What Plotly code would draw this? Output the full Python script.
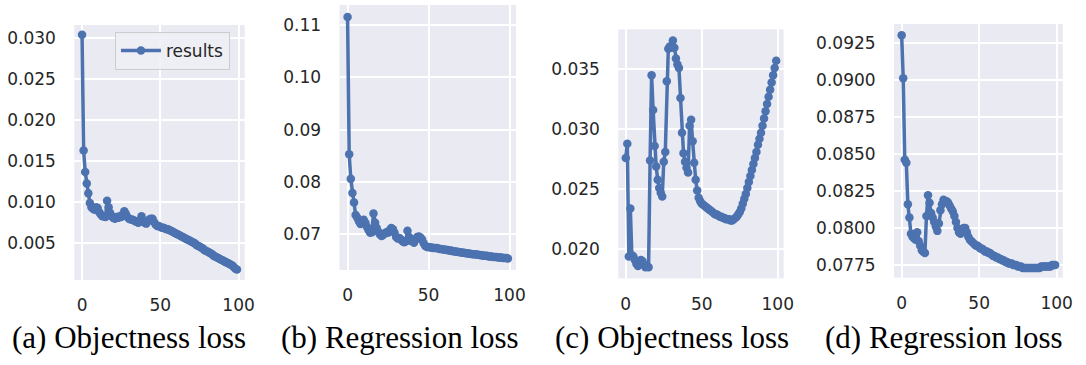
import plotly.graph_objects as go

epochs = list(range(100))

obj_loss_a = [
    0.0304, 0.0163, 0.0137, 0.0123, 0.0111, 0.0099, 0.0094, 0.0092, 0.0091, 0.0094,
    0.0093, 0.0088, 0.0085, 0.0083, 0.0083, 0.0082, 0.0102, 0.0094, 0.0087, 0.0083,
    0.0081, 0.0080, 0.0082, 0.0081, 0.0083, 0.0082, 0.0085, 0.0089, 0.0086, 0.0082,
    0.0080, 0.0079, 0.0079, 0.0078, 0.0077, 0.0076, 0.0075, 0.0078, 0.0083, 0.0077,
    0.0075, 0.0074, 0.0077, 0.0079, 0.0080, 0.0080, 0.0076, 0.0073, 0.0071, 0.0071,
    0.0070, 0.0069, 0.0069, 0.0068, 0.0067, 0.0067, 0.0066, 0.0065, 0.0064, 0.0063,
    0.0062, 0.0061, 0.0060, 0.0059, 0.0058, 0.0057, 0.0056, 0.0055, 0.0054, 0.0053,
    0.0052, 0.0051, 0.0050, 0.0048, 0.0047, 0.0046, 0.0045, 0.0044, 0.0042, 0.0041,
    0.0040, 0.0039, 0.0038, 0.0037, 0.0035, 0.0034, 0.0033, 0.0032, 0.0031, 0.0030,
    0.0029, 0.0028, 0.0027, 0.0026, 0.0025, 0.0024, 0.0023, 0.0021, 0.0019, 0.0018,
]

reg_loss_b = [
    0.1115, 0.0853, 0.0806, 0.0779, 0.0761, 0.0737, 0.0732, 0.0725, 0.0720, 0.0725,
    0.0728, 0.0722, 0.0714, 0.0708, 0.0703, 0.0704, 0.0740, 0.0722, 0.0712, 0.0705,
    0.0700, 0.0697, 0.0699, 0.0702, 0.0704, 0.0703, 0.0708, 0.0712, 0.0710, 0.0703,
    0.0695, 0.0692, 0.0693, 0.0690, 0.0687, 0.0685, 0.0687, 0.0707, 0.0695, 0.0688,
    0.0687, 0.0684, 0.0690, 0.0695, 0.0696, 0.0694, 0.0690, 0.0683, 0.0678, 0.0676,
    0.0676, 0.0675, 0.0675, 0.0674, 0.0674, 0.0674, 0.0673, 0.0672, 0.0672, 0.0671,
    0.0671, 0.0670, 0.0670, 0.0669, 0.0669, 0.0668, 0.0668, 0.0667, 0.0667, 0.0666,
    0.0666, 0.0665, 0.0665, 0.0664, 0.0664, 0.0663, 0.0663, 0.0662, 0.0662, 0.0662,
    0.0661, 0.0661, 0.0660, 0.0660, 0.0659, 0.0659, 0.0659, 0.0658, 0.0658, 0.0658,
    0.0657, 0.0657, 0.0657, 0.0656, 0.0656, 0.0656, 0.0655, 0.0655, 0.0655, 0.0654,
]

obj_loss_c = [
    0.0276, 0.0288, 0.0194, 0.0234, 0.0195, 0.0194, 0.0191, 0.0188, 0.0186, 0.0188,
    0.0191, 0.0190, 0.0187, 0.0185, 0.0186, 0.0185, 0.0274, 0.0345, 0.0316, 0.0286,
    0.0269, 0.0258, 0.0251, 0.0247, 0.0244, 0.0273, 0.0281, 0.0340, 0.0367, 0.0369,
    0.0368, 0.0374, 0.0368, 0.0359, 0.0354, 0.0351, 0.0326, 0.0297, 0.0280, 0.0273,
    0.0268, 0.0264, 0.0303, 0.0308, 0.0290, 0.0272, 0.0258, 0.0249, 0.0243, 0.0240,
    0.0238, 0.0237, 0.0236, 0.0235, 0.0234, 0.0233, 0.0232, 0.0231, 0.0230, 0.0229,
    0.0229, 0.0228, 0.0227, 0.0227, 0.0226, 0.0226, 0.0225, 0.0225, 0.0225, 0.0224,
    0.0224, 0.0225, 0.0226, 0.0227, 0.0229, 0.0231, 0.0234, 0.0238, 0.0242, 0.0246,
    0.0251, 0.0256, 0.0261, 0.0266, 0.0271, 0.0276, 0.0281, 0.0287, 0.0292, 0.0297,
    0.0303, 0.0309, 0.0315, 0.0321, 0.0327, 0.0333, 0.0339, 0.0345, 0.0351, 0.0357,
]

reg_loss_d = [
    0.0930, 0.0901, 0.0846, 0.0844, 0.0816, 0.0807, 0.0796, 0.0794, 0.0793, 0.0792,
    0.0797, 0.0791, 0.0788, 0.0785, 0.0784, 0.0783, 0.0808, 0.0822, 0.0817, 0.0810,
    0.0807, 0.0804, 0.0801, 0.0798, 0.0803, 0.0812, 0.0816, 0.0819, 0.0818, 0.0818,
    0.0817, 0.0815, 0.0813, 0.0811, 0.0808, 0.0804, 0.0800, 0.0797, 0.0796, 0.0799,
    0.0800, 0.0800, 0.0797, 0.0794, 0.0792, 0.0791, 0.0790, 0.0789, 0.0788, 0.0788,
    0.0787, 0.0786, 0.0786, 0.0785, 0.0784, 0.0784, 0.0783, 0.0783, 0.0782, 0.0781,
    0.0781, 0.0780, 0.0780, 0.0779, 0.0779, 0.0778, 0.0778, 0.0777, 0.0777, 0.0776,
    0.0776, 0.0776, 0.0775, 0.0775, 0.0775, 0.0774, 0.0774, 0.0774, 0.0773, 0.0773,
    0.0773, 0.0773, 0.0773, 0.0773, 0.0773, 0.0773, 0.0773, 0.0773, 0.0773, 0.0773,
    0.0774, 0.0774, 0.0774, 0.0774, 0.0774, 0.0774, 0.0774, 0.0775, 0.0775, 0.0775,
]

captions = ["(a) Objectness loss", "(b) Regression loss",
            "(c) Objectness loss", "(d) Regression loss"]
x_tick_values = [0, 50, 100]
series_name = "results"

W, H = 1086, 365
LINE = "#4C72B0"
BG = "#EAEAF2"
TXT = "#262626"

# pixel boxes (left, top, right, bottom) for each panel
boxes = [(75, 25, 247, 280), (342.7, 5, 520.7, 270),
         (624, 29.3, 791, 278.3), (902.3, 24, 1072.7, 277.7)]
yranges = [(0.00053, 0.0316), (0.0632, 0.1138), (0.01758, 0.03833), (0.07664, 0.09376)]
ydticks = [0.005, 0.01, 0.005, 0.0025]
yformats = [".3f", ".2f", ".3f", ".4f"]
ytick0 = [0.005, 0.07, 0.020, 0.0775]
cap_centers = [130, 404, 678.5, 953]
series = [obj_loss_a, reg_loss_b, obj_loss_c, reg_loss_d]

fig = go.Figure()
layout = dict(
    width=W, height=H, margin=dict(l=0, r=0, t=0, b=0),
    paper_bgcolor="white", plot_bgcolor=BG,
    font=dict(family="DejaVu Sans", size=17, color=TXT),
    showlegend=True,
    legend=dict(x=116 / W, y=1 - 32 / H, xanchor="left", yanchor="top",
                bgcolor="rgba(238,238,245,0.9)", bordercolor="#CCCCCC", borderwidth=1,
                font=dict(family="DejaVu Sans", size=17, color=TXT),
                itemwidth=40, tracegroupgap=0),
)

annotations = []
for i, (vals, box) in enumerate(zip(series, boxes)):
    l, t, r, b = box
    sfx = "" if i == 0 else str(i + 1)
    fig.add_trace(go.Scatter(
        x=epochs, y=vals, mode="lines+markers", name=series_name,
        showlegend=(i == 0),
        line=dict(color=LINE, width=3.5),
        marker=dict(color=LINE, size=8.5, line=dict(width=0)),
        xaxis="x" + sfx, yaxis="y" + sfx,
    ))
    layout["xaxis" + sfx] = dict(
        domain=[l / W, r / W], anchor="y" + sfx, range=[-4.95, 103.95],
        tickvals=x_tick_values, showgrid=True, gridcolor="white", gridwidth=1.5,
        zeroline=False, showline=False, ticks="outside", ticklen=10,
        tickcolor="rgba(0,0,0,0)", tickfont=dict(size=17, color=TXT),
    )
    layout["yaxis" + sfx] = dict(
        domain=[1 - b / H, 1 - t / H], anchor="x" + sfx, range=list(yranges[i]),
        tick0=ytick0[i], dtick=ydticks[i], tickformat=yformats[i],
        showgrid=True, gridcolor="white", gridwidth=1.5,
        zeroline=False, showline=False, ticks="outside", ticklen=14,
        tickcolor="rgba(0,0,0,0)", tickfont=dict(size=17, color=TXT),
    )
    annotations.append(dict(
        text=captions[i], x=cap_centers[i] / W,
        y=1 - 337 / H, xref="paper", yref="paper",
        xanchor="center", yanchor="middle", showarrow=False,
        font=dict(family="Liberation Serif", size=31, color="black"),
    ))

layout["annotations"] = annotations
fig.update_layout(**layout)
fig.write_html("out.html")
